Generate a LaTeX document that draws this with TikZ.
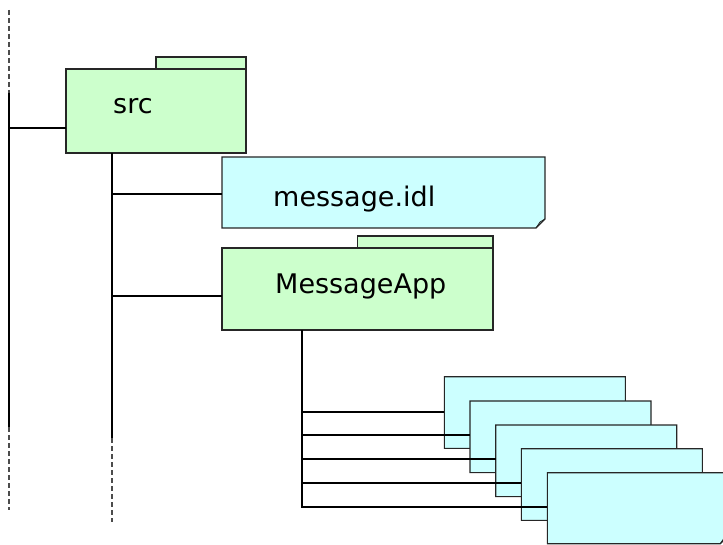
\documentclass[tikz,border=0pt]{standalone}
\usepackage{fontspec}
\setmainfont{DejaVu Sans}
\definecolor{foldgreen}{HTML}{CCFFCC}
\definecolor{notecyan}{HTML}{CCFFFF}
\tikzset{
  base/.style={inner sep=0pt, outer sep=0pt, anchor=north west},
  boxline/.style={draw=black!85, line width=1.1pt},
  conn/.style={draw=black, line width=1.9pt},
  dashconn/.style={draw=black!70, line width=1.5pt, dash pattern=on 5pt off 3pt},
  lbl/.style={inner sep=0pt, anchor=base west, font=\fontsize{27}{32}\selectfont},
}
\newcommand\mynote[5]{%
  \node[base, minimum width=#4pt, minimum height=#5pt] (#1) at (#2,#3) {};
  \filldraw[boxline, fill=notecyan] (#1.north west) -- (#1.north east)
    -- ([yshift=9pt]#1.south east) -- ([xshift=-9pt]#1.south east)
    -- (#1.south west) -- cycle;
  \draw[boxline, line width=0.8pt] ([yshift=9pt]#1.south east) -- ([xshift=-5pt,yshift=6pt]#1.south east) -- ([xshift=-9pt]#1.south east);
}
\newcommand\myfolder[5]{%
  \node[base, minimum width=#4pt, minimum height=#5pt, boxline, fill=foldgreen] (#1) at (#2,#3) {};
  \filldraw[boxline, fill=foldgreen] (#1.north) rectangle ([yshift=12pt]#1.north east);
}
\begin{document}
\begin{tikzpicture}[x=1pt,y=-1pt]
\useasboundingbox (0,0) rectangle (723,545);
% folders and notes
\myfolder{src}{66}{69}{180}{84}
\node[lbl] (srct) at (113,113.3) {src};
\mynote{idl}{222}{157}{323}{71}
\node[lbl] (idlt) at (273,206.7) {message.idl};
\myfolder{app}{222}{248}{271}{82}
\node[lbl] (appt) at (275,293.3) {MessageApp};
\mynote{f1}{444.3}{376.7}{181}{71.6}
\mynote{f2}{470}{401}{181}{71.6}
\mynote{f3}{495.7}{425}{181}{71.6}
\mynote{f4}{521.3}{448.7}{181}{71.6}
\mynote{f5}{547.3}{472.7}{182}{71}
% trunk coordinates
\coordinate (a0) at (9,10);
\coordinate (a1) at (9,93);
\coordinate (a2) at (9,427);
\coordinate (a3) at (9,510);
\coordinate (ja) at (9,128);
\coordinate (b1) at (112,438);
\coordinate (b2) at (112,522);
\coordinate (jb1) at (112,194);
\coordinate (jb2) at (112,296);
\coordinate (c1) at (302,507.6);
\coordinate (jc1) at (302,411.7);
\coordinate (jc2) at (302,435);
\coordinate (jc3) at (302,458.7);
\coordinate (jc4) at (302,482.7);
\coordinate (jc5) at (301,506.7);
% trunks
\draw[dashconn] (a0) -- (a1);
\draw[conn] (a1) -- (a2);
\draw[dashconn] (a2) -- (a3);
\draw[conn] (ja) -- (ja -| src.west);
\draw[conn] (src.south -| b1) -- (b1);
\draw[dashconn] (b1) -- (b2);
\draw[conn] (jb1) -- (jb1 -| idl.west);
\draw[conn] (jb2) -- (jb2 -| app.west);
\draw[conn] (app.south -| c1) -- (c1);
\draw[conn] (jc1) -- (jc1 -| f1.west);
\draw[conn] (jc2) -- (jc2 -| f2.west);
\draw[conn] (jc3) -- (jc3 -| f3.west);
\draw[conn] (jc4) -- (jc4 -| f4.west);
\draw[conn] (jc5) -- (jc5 -| f5.west);
\end{tikzpicture}
\end{document}
